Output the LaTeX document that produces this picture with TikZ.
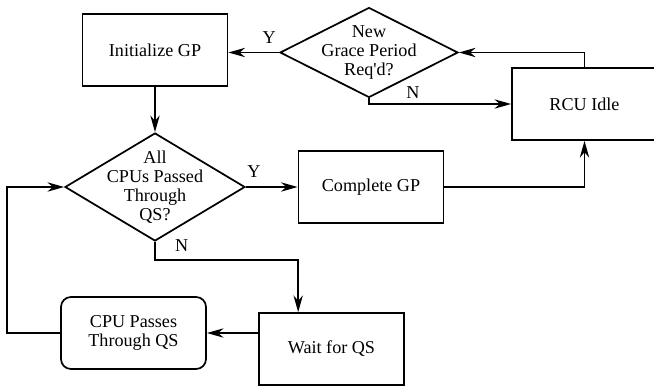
\documentclass[tikz,border=0pt]{standalone}
\usepackage{fontspec}
\setmainfont{Liberation Serif}
\usetikzlibrary{shapes.geometric,arrows.meta}
\begin{document}
\begin{tikzpicture}[
    x=0.75pt, y=0.75pt,
    every node/.style={font=\fontsize{13.6}{14.2}\selectfont},
    process/.style={draw, line width=1.3pt,
                    minimum width=108.75pt, minimum height=54pt, align=center},
    event/.style={draw, line width=1.3pt, rounded corners=7.5pt,
                  minimum width=108.75pt, minimum height=54pt, align=center},
    decision/.style={draw, line width=1.3pt, shape=diamond, inner sep=0pt},
    answer/.style={inner sep=0pt},
    flow/.style={draw, line width=1.3pt, -{Stealth[length=12.5pt, width=7pt, inset=4pt]}},
  ]
    \useasboundingbox (0,0) rectangle (654,-386);

    \node[process] (init) at (155,-50) {Initialize GP};
    \node[decision, minimum width=133.5pt, minimum height=67.5pt] (newgp) at (369,-52.5) {};
    \node[align=center] (newgptext) at (newgp) {New\\Grace Period\\Req\textquotesingle d?};
    \node[process] (idle) at (584.5,-104) {RCU Idle};
    \node[decision, minimum width=135pt, minimum height=81pt] (allcpu) at (155,-187) {};
    \node[align=center] (allcputext) at (allcpu) {All\\CPUs Passed\\Through\\QS?};
    \node[process] (complete) at (371,-187) {Complete GP};
    \node[process] (wait) at (331.5,-349) {Wait for QS};
    \node[event] (cpuqs) at (133.5,-333) {CPU Passes\\Through QS};

    \draw[flow] (newgp.west) -- (newgp.west -| init.east);
    \draw[flow] (idle.north) |- (newgp.east);
    \draw[flow] (newgp.south) |- (idle.west);
    \draw[flow] (init.south) -- (allcpu.north);
    \draw[flow] (allcpu.east) -- (complete.west);
    \draw[flow] (complete.east) -| (idle.south);
    \draw[flow] (allcpu.south) -- ++(0,-18) -| ([xshift=-25pt]wait.north);
    \draw[flow] (cpuqs.east -| wait.west) -- (cpuqs.east);
    \draw[flow] (cpuqs.west) -- ++(-53,0) |- (allcpu.west);

    \node[answer] (yes1) at ([xshift=-7.5pt, yshift=11.25pt]newgp.west) {Y};
    \node[answer] (yes2) at ([xshift=6pt, yshift=11.25pt]allcpu.east) {Y};
    \node[answer] (no1) at ([xshift=33pt, yshift=4.5pt]newgp.south) {N};
    \node[answer] (no2) at ([xshift=20pt, yshift=-3pt]allcpu.south) {N};
  \end{tikzpicture}
\end{document}
